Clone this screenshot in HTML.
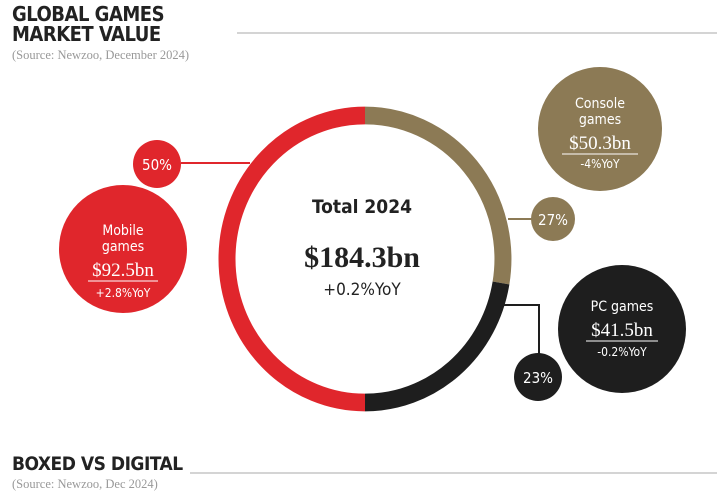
<!DOCTYPE html><html><head><style>
body{margin:0;width:717px;height:497px;background:#fff;overflow:hidden;position:relative;font-family:"DejaVu Sans Condensed","Liberation Sans",sans-serif}
.t{position:absolute;font-weight:bold;color:#222;font-size:20px;letter-spacing:-0.5px;line-height:20px}
.s{position:absolute;font-family:"Liberation Serif",serif;color:#999;font-size:12.5px}
</style></head><body>
<div class="t" style="left:12px;top:4px">GLOBAL GAMES<br>MARKET VALUE</div>
<div class="s" style="left:12px;top:48px">(Source: Newzoo, December 2024)</div>
<div class="t" style="left:12px;top:454px;font-size:19px">BOXED VS DIGITAL</div>
<div class="s" style="left:12px;top:477px">(Source: Newzoo, Dec 2024)</div>
<svg width="717" height="497" style="position:absolute;left:0;top:0">
<line x1="237" y1="33" x2="717" y2="33" stroke="#bbb" stroke-width="1.2"/>
<line x1="190" y1="473" x2="717" y2="473" stroke="#bbb" stroke-width="1.2"/>
<g fill="none" stroke-width="17" transform="translate(365 259) scale(1 1.04)">
<path d="M0 138 A138 138 0 0 1 0 -138" stroke="#e0262c"/>
<path d="M0 -138 A138 138 0 0 1 136 23" stroke="#8c7a55"/>
<path d="M136 23 A138 138 0 0 1 0 138" stroke="#1e1e1e"/>
</g>
<line x1="181" y1="163" x2="250" y2="163" stroke="#e0262c" stroke-width="2"/>
<line x1="508" y1="219" x2="533" y2="219" stroke="#8c7a55" stroke-width="2"/>
<polyline points="498,305 539,305 539,356" fill="none" stroke="#1e1e1e" stroke-width="2"/>
<circle cx="157" cy="164" r="24" fill="#e0262c"/>
<circle cx="123" cy="249" r="64" fill="#e0262c"/>
<circle cx="600" cy="129" r="62" fill="#8c7a55"/>
<circle cx="553" cy="219" r="22" fill="#8c7a55"/>
<circle cx="622" cy="329" r="64" fill="#1e1e1e"/>
<circle cx="538" cy="377" r="24" fill="#1e1e1e"/>
<g font-family="DejaVu Sans Condensed,Liberation Sans,sans-serif" text-anchor="middle" fill="#fff">
<text x="157" y="170" font-size="15">50%</text>
<text x="553" y="225" font-size="15">27%</text>
<text x="538" y="383" font-size="15">23%</text>
<text x="123" y="235" font-size="14">Mobile</text>
<text x="123" y="251" font-size="14">games</text>
<text x="123" y="276" font-size="19" font-family="Liberation Serif,serif">$92.5bn</text>
<line x1="88" y1="281" x2="158" y2="281" stroke="#fff" stroke-width="1"/>
<text x="123" y="297" font-size="12">+2.8%YoY</text>
<text x="600" y="108" font-size="14">Console</text>
<text x="600" y="124" font-size="14">games</text>
<text x="600" y="149" font-size="19" font-family="Liberation Serif,serif">$50.3bn</text>
<line x1="562" y1="154" x2="638" y2="154" stroke="#fff" stroke-width="1"/>
<text x="600" y="168" font-size="12">-4%YoY</text>
<text x="622" y="311" font-size="14">PC games</text>
<text x="622" y="336" font-size="19" font-family="Liberation Serif,serif">$41.5bn</text>
<line x1="586" y1="341" x2="658" y2="341" stroke="#fff" stroke-width="1"/>
<text x="622" y="356" font-size="12">-0.2%YoY</text>
</g>
<g text-anchor="middle" fill="#222">
<text x="362" y="213" font-size="19" font-weight="bold" font-family="DejaVu Sans Condensed,Liberation Sans,sans-serif">Total 2024</text>
<text x="362" y="267" font-size="30" font-weight="bold" font-family="Liberation Serif,serif">$184.3bn</text>
<text x="362" y="295" font-size="17" font-family="DejaVu Sans Condensed,Liberation Sans,sans-serif">+0.2%YoY</text>
</g>
</svg>
</body></html>
